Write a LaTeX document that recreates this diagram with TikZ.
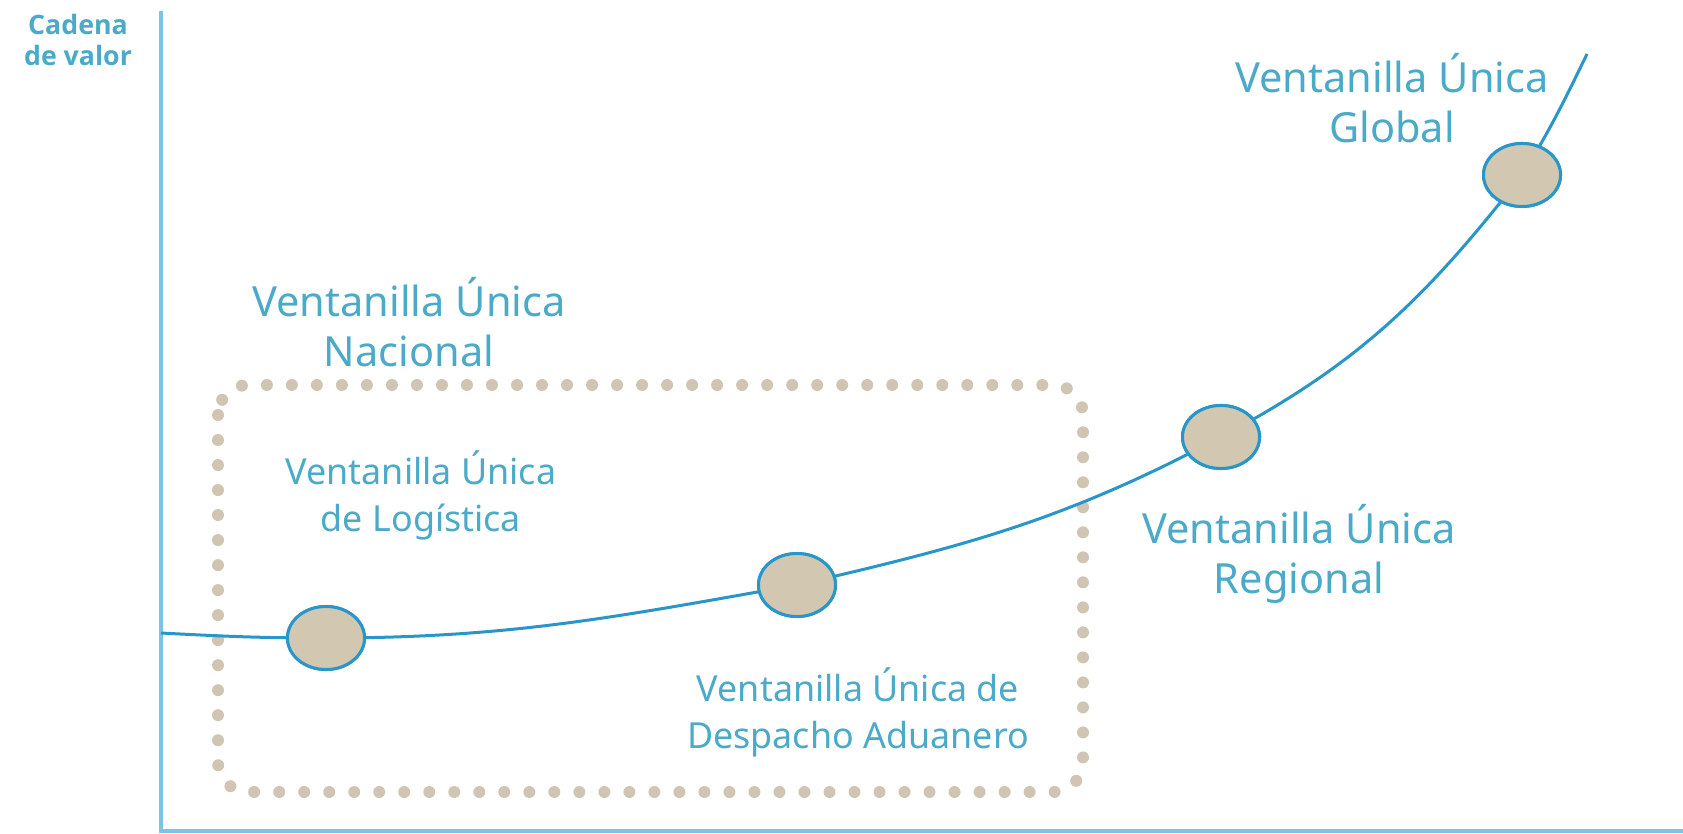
\documentclass[tikz,border=0pt]{standalone}
\usepackage{fontspec}
\setmainfont{Noto Sans}
\newfontfamily\axisfont{Open Sans}
\usetikzlibrary{shapes.geometric}
\usepackage{xcolor}
\definecolor{labelblue}{RGB}{74,170,200}
\definecolor{curveblue}{RGB}{40,150,200}
\definecolor{axisblue}{RGB}{125,195,230}
\definecolor{sand}{RGB}{210,200,178}
\definecolor{dotsand}{RGB}{207,197,178}

\begin{document}
\begin{tikzpicture}[x=0.01cm,y=0.01cm]
						\tikzstyle{stage} = [ellipse,fill=sand,draw=curveblue,line width=0.03cm,minimum width=0.77cm,minimum height=0.63cm,inner sep=0pt]
						\tikzstyle{biglabel} = [text=labelblue,align=center,font=\fontsize{11.8}{14.2}\selectfont]
						\tikzstyle{smalllabel} = [text=labelblue,align=center,font=\fontsize{10.2}{13.3}\selectfont]
						\tikzstyle{axis} = [draw=axisblue,line width=0.04cm]
						\tikzstyle{curve} = [draw=curveblue,line width=0.03cm]
						\useasboundingbox (0,0) rectangle (1683,833);
						\coordinate (top) at (161,822);
						\coordinate (origin) at (161,2);
						\coordinate (right) at (1683,2);
						\coordinate (start) at (161,200);
						\coordinate (end) at (1587,779);
						\coordinate (boxa) at (218,448);
						\coordinate (boxb) at (1083,41);
						\node[stage] (s1) at (326,195) {};
						\node[stage] (s2) at (797,248) {};
						\node[stage] (s3) at (1221,396) {};
						\node[stage] (s4) at (1522,658) {};
						\node[text=labelblue,align=center,font=\axisfont\bfseries\fontsize{7.6}{8.8}\selectfont] (yaxis) at (78,793) {Cadena\\de valor};
						\node[biglabel] (global) at (1392,735) {Ventanilla Única\\Global};
						\node[biglabel] (nacional) at (409,511) {Ventanilla Única\\Nacional};
						\node[smalllabel] (logistica) at (421,338) {Ventanilla Única\\de Logística};
						\node[smalllabel] (despacho) at (858,121) {Ventanilla Única de\\Despacho Aduanero};
						\node[biglabel] (regional) at (1299,279) {Ventanilla Única\\Regional};
						
						\draw[axis] (top)--(origin)--(right);
						\draw[dotsand,line width=0.12cm,line cap=round,dash pattern=on 0pt off 0.25cm,rounded corners=0.3cm] (boxa) rectangle (boxb);
						\draw[curve] (start) to[out=-3,in=180] (s1.center) to[out=0,in=190] (s2.center) to[out=13,in=208] (s3.center) to[out=28,in=232] (s4.center) to[out=58,in=244] (end);
						\node[stage] at (s1) {};
						\node[stage] at (s2) {};
						\node[stage] at (s3) {};
						\node[stage] at (s4) {};
						
						
						\end{tikzpicture}
\end{document}
